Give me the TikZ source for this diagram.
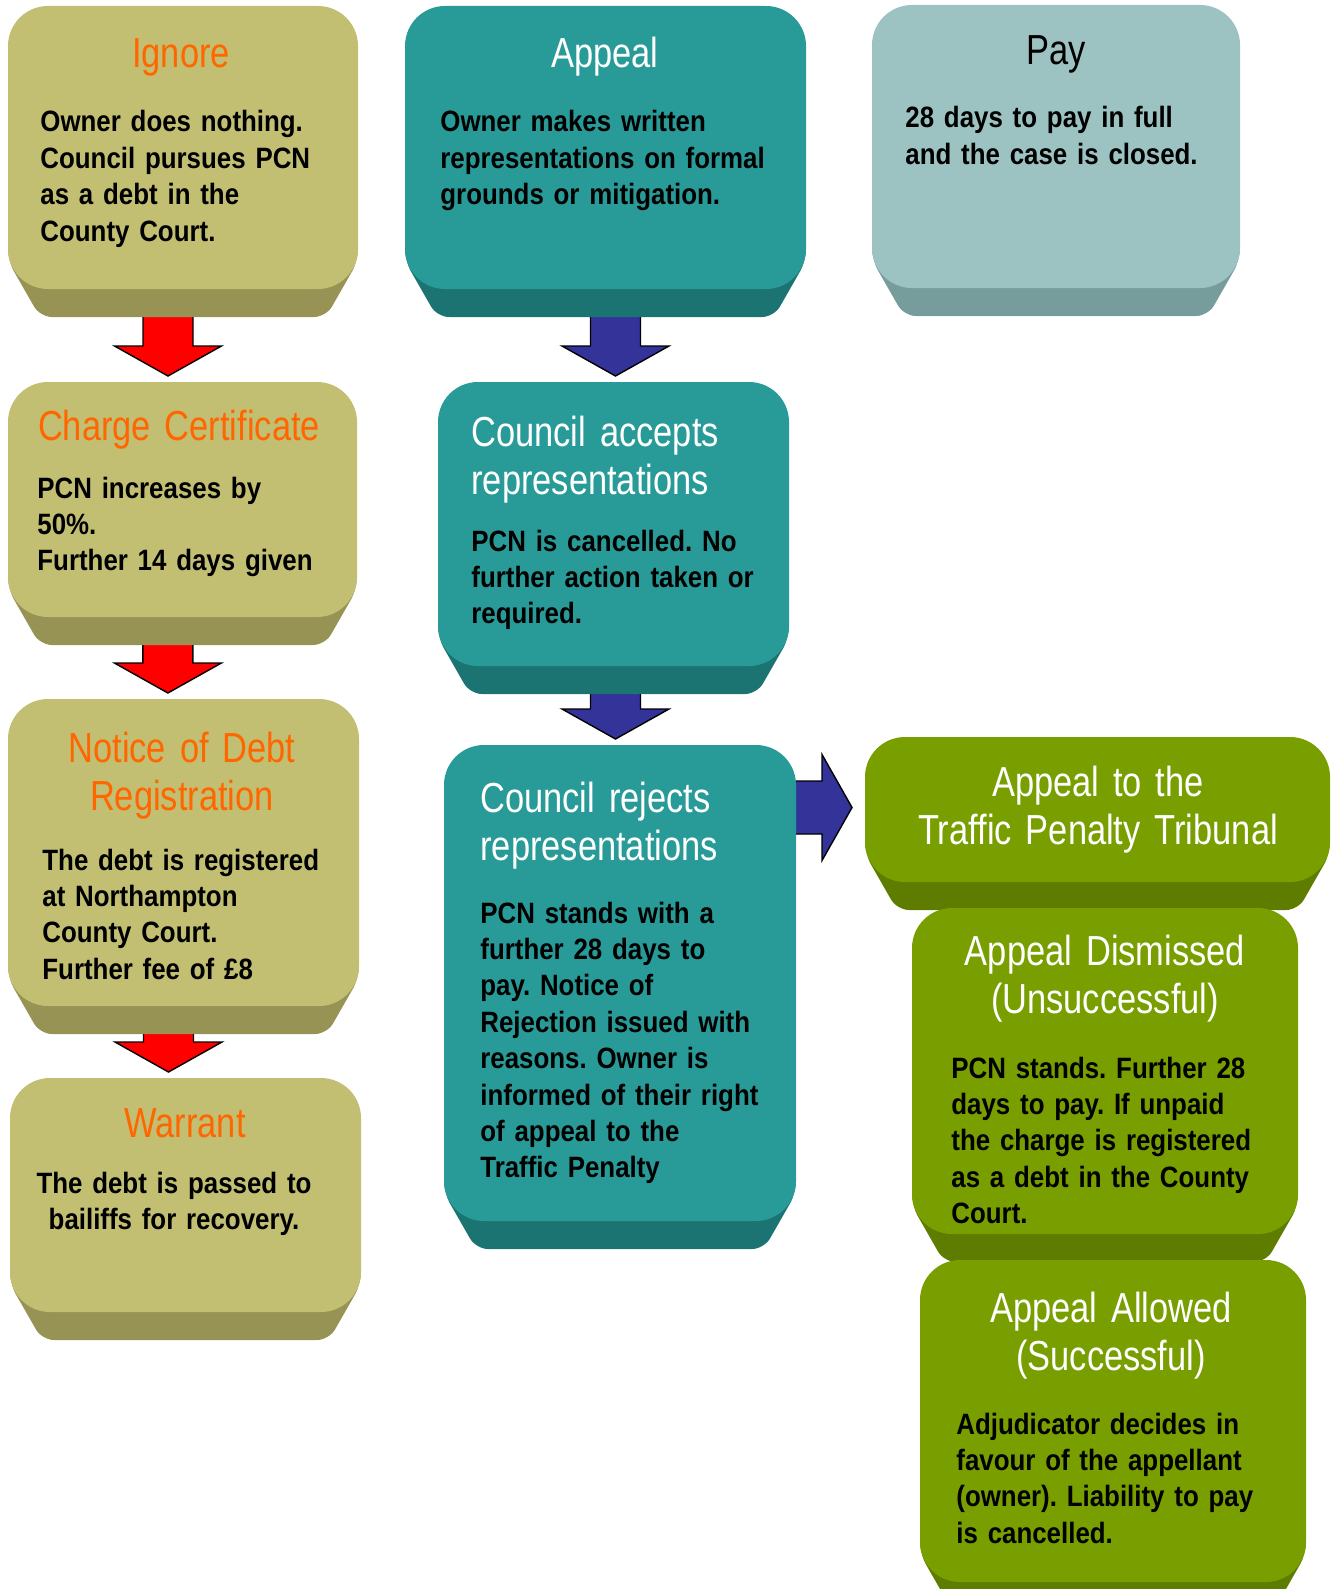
\documentclass[tikz,border=0pt]{standalone}
\usepackage{fontspec}
\setmainfont{Liberation Sans}
\newfontfamily\titlefont{Liberation Sans}[FakeStretch=0.82]
\newfontfamily\bodyfont{Liberation Sans}[FakeStretch=0.88]
\usetikzlibrary{calc,positioning}
\frenchspacing

\definecolor{faceolv}{RGB}{194,191,114}
\definecolor{bandolv}{RGB}{150,147,84}
\definecolor{faceteal}{RGB}{40,155,152}
\definecolor{bandteal}{RGB}{28,116,114}
\definecolor{facepay}{RGB}{156,194,194}
\definecolor{bandpay}{RGB}{118,156,156}
\definecolor{facegrn}{RGB}{120,158,0}
\definecolor{bandgrn}{RGB}{94,124,0}
\definecolor{orng}{RGB}{255,102,0}
\definecolor{redarrow}{RGB}{255,0,0}
\definecolor{bluearrow}{RGB}{51,51,153}

\begin{document}
\begin{tikzpicture}
 [x=0.5pt, y=-0.5pt,
% Block style
    blk/.style={rectangle,inner sep=0pt,outer sep=0pt},
% Arrow style
    arrowline/.style={draw=black,line width=0.7pt,line join=miter},
% Text style
    ttl/.style={font={\titlefont\fontsize{21}{24.4}\selectfont\spaceskip=3.9pt plus 1pt minus 1pt},
        inner sep=0pt,text width=230pt,align=center,anchor=base},
    ttlleft/.style={ttl,align=left,anchor=base west},
    body/.style={font={\bodyfont\bfseries\fontsize{14.7}{18.2}\selectfont\spaceskip=3.7pt plus 1pt minus 1pt},
        inner sep=0pt,text width=185pt,align=left,anchor=base west}
 ]
\useasboundingbox (0,0) rectangle (1337,1589);
\clip (0,0) rectangle (1337,1589);

%% Blocks
\node[blk,minimum width=175pt,minimum height=155.5pt] (ignore) at (183,161.5) {};
\node[blk,minimum width=200.5pt,minimum height=155.5pt] (appeal) at (605.5,161.5) {};
\node[blk,minimum width=184pt,minimum height=155.5pt] (pay) at (1056,160.5) {};
\node[blk,minimum width=174.5pt,minimum height=131.5pt] (charge) at (182.5,513.5) {};
\node[blk,minimum width=175.5pt,minimum height=167.5pt] (notice) at (183.5,866.5) {};
\node[blk,minimum width=175.5pt,minimum height=131pt] (warrant) at (185.5,1209) {};
\node[blk,minimum width=175.5pt,minimum height=156pt] (accepts) at (613.5,538) {};
\node[blk,minimum width=176pt,minimum height=252pt] (rejects) at (620,997) {};
\node[blk,minimum width=232.5pt,minimum height=86.5pt] (tpt) at (1097.5,823.5) {};
\node[blk,minimum width=193pt,minimum height=177pt] (dismissed) at (1105,1085) {};
\node[blk,minimum width=193pt,minimum height=175pt] (allowed) at (1113,1435) {};

%% Block arrows
\foreach \a/\b/\s/\c in {ignore/charge/-7.5/redarrow, charge/notice/-7.3/redarrow,
    notice/warrant/-7.5/redarrow, appeal/accepts/5/bluearrow, accepts/rejects/1/bluearrow}
  \filldraw[arrowline,fill=\c] let \p1=($(\a.south)+(\s pt,0pt)$), \p2=($(\b.north)+(\s pt,0pt)$) in
    (\x1-12.5pt,\y1+2pt) -- (\x1+12.5pt,\y1+2pt) -- (\x1+12.5pt,\y2+18pt) -- (\x1+26.75pt,\y2+18pt)
    -- (\x1,\y2+3pt) -- (\x1-26.75pt,\y2+18pt) -- (\x1-12.5pt,\y2+18pt) -- cycle;
\filldraw[arrowline,fill=bluearrow] let \p1=(rejects.east), \p2=($(tpt.west)+(0pt,8pt)$) in
    (\x1-2pt,\y2+13.25pt) -- (\x2-21.5pt,\y2+13.25pt) -- (\x2-21.5pt,\y2+26.5pt) -- (\x2-6.5pt,\y2)
    -- (\x2-21.5pt,\y2-26.5pt) -- (\x2-21.5pt,\y2-13.25pt) -- (\x1-2pt,\y2-13.25pt) -- cycle;

%% Block faces
\foreach \n/\c in {ignore/olv, charge/olv, notice/olv, warrant/olv, appeal/teal, accepts/teal,
    rejects/teal, pay/pay, tpt/grn, dismissed/grn, allowed/grn}{
  \fill[fill=band\c,rounded corners=6pt] ($(\n.south west)+(16pt,0pt)$) -- ($(\n.south west)+(0pt,28pt)$)
    -- ($(\n.south west)+(0pt,40pt)$) -- ($(\n.south east)+(0pt,40pt)$)
    -- ($(\n.south east)+(0pt,28pt)$) -- ($(\n.south east)+(-16pt,0pt)$) -- cycle;
  \fill[fill=face\c,rounded corners=20pt] (\n.north west) rectangle ($(\n.south east)+(0pt,14pt)$);
}

%% Texts
\node[ttl,text=orng] (ignoret) at (181,68) {Ignore};
\node[body] (ignoreb) at (40,132) {Owner does nothing.\\Council pursues PCN\\as a debt in the\\County Court.};
\node[ttl,text=white] (appealt) at (605,68) {Appeal};
\node[body] (appealb) at (440,132) {Owner makes written\\representations on formal\\grounds or mitigation.};
\node[ttl] (payt) at (1056,65) {Pay};
\node[body] (payb) at (905,128) {28 days to pay in full\\and the case is closed.};
\node[ttl,text=orng] (charget) at (179,440) {Charge Certificate};
\node[body] (chargeb) at (37,498) {PCN increases by\\50\%.\\Further 14 days given};
\node[ttl,text=orng] (noticet) at (182,762) {Notice of Debt\\Registration};
\node[body] (noticeb) at (42,870) {The debt is registered\\at Northampton\\County Court.\\Further fee of £8};
\node[ttl,text=orng] (warrantt) at (185,1137) {Warrant};
\node[body,align=center,anchor=base] (warrantb) at (174,1193) {The debt is passed to\\bailiffs for recovery.};
\node[ttlleft,text=white] (acceptst) at (471,446) {Council accepts\\representations};
\node[body] (acceptsb) at (471,551) {PCN is cancelled. No\\further action taken or\\required.};
\node[ttlleft,text=white] (rejectst) at (480,812) {Council rejects\\representations};
\node[body] (rejectsb) at (480,923) {PCN stands with a\\further 28 days to\\pay. Notice of\\Rejection issued with\\reasons. Owner is\\informed of their right\\of appeal to the\\Traffic Penalty};
\node[ttl,text=white] (tptt) at (1098,796) {Appeal to the\\Traffic Penalty Tribunal};
\node[ttl,text=white] (dismissedt) at (1105,965) {Appeal Dismissed\\(Unsuccessful)};
\node[body] (dismissedb) at (951,1078) {PCN stands. Further 28\\days to pay. If unpaid\\the charge is registered\\as a debt in the County\\Court.};
\node[ttl,text=white] (allowedt) at (1111,1322) {Appeal Allowed\\(Successful)};
\node[body] (allowedb) at (956,1434) {Adjudicator decides in\\favour of the appellant\\(owner). Liability to pay\\is cancelled.};
\end{tikzpicture}
\end{document}
